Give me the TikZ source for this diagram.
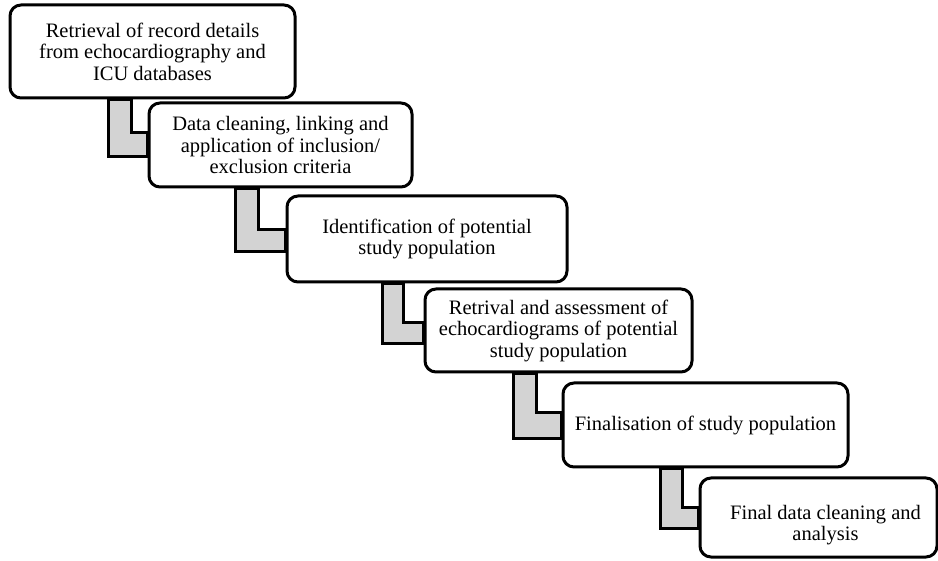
\documentclass[tikz,border=0pt]{standalone}
\usepackage{fontspec}
\setmainfont{Liberation Serif}
\usetikzlibrary{backgrounds}
\definecolor{stepgray}{HTML}{D3D3D3}
\tikzset{
  stagebox/.style={draw=black, line width=3pt, rounded corners=11pt, fill=white,
    align=center, inner sep=0pt, font=\fontsize{20.5}{21.5}\selectfont},
  link/.style={draw=black, line width=3pt, fill=stepgray, line join=miter}
}
\begin{document}
\begin{tikzpicture}[x=1pt,y=-1pt]
\useasboundingbox (0,0) rectangle (938,561);

% the six stages, stepping down to the right
\node[stagebox, minimum width=285pt, minimum height=93pt] (b1) at (152.5,51.5)
  {Retrieval of record details\\from echocardiography and\\ICU databases};
\node[stagebox, minimum width=263pt, minimum height=84pt] (b2) at (280.5,145)
  {Data cleaning, linking and\\application of inclusion/\\exclusion criteria};
\node[stagebox, minimum width=280pt, minimum height=86pt] (b3) at (427,239)
  {Identification of potential\\study population};
\node[stagebox, minimum width=267pt, minimum height=83pt] (b4) at (558.5,330.5)
  {Retrival and assessment of\\echocardiograms of potential\\study population};
\node[stagebox, minimum width=285pt, minimum height=84pt] (b5) at (705.5,425)
  {Finalisation of study population};
% last box runs to the page edge; its text sits a little right and low
\node[stagebox, minimum width=237pt, minimum height=79pt] (b6) at (818.5,517.5)
  {\rule{0pt}{29pt}\hspace*{14pt}Final data cleaning and\\\hspace*{14pt}analysis};

% L-shaped grey links, tucked behind the boxes
\begin{scope}[on background layer]
\draw[link] (108,0 |- b1.south) -- (108,157) -- (b2.west |- 0,157)
  -- (b2.west |- 0,133) -- (131,133) -- (131,0 |- b1.south) -- cycle;
\draw[link] (235,0 |- b2.south) -- (235,252) -- (b3.west |- 0,252)
  -- (b3.west |- 0,230) -- (258,230) -- (258,0 |- b2.south) -- cycle;
\draw[link] (382,0 |- b3.south) -- (382,344) -- (b4.west |- 0,344)
  -- (b4.west |- 0,323) -- (403,323) -- (403,0 |- b3.south) -- cycle;
\draw[link] (513,0 |- b4.south) -- (513,439) -- (b5.west |- 0,439)
  -- (b5.west |- 0,413) -- (536,413) -- (536,0 |- b4.south) -- cycle;
\draw[link] (660,0 |- b5.south) -- (660,528) -- (b6.west |- 0,528)
  -- (b6.west |- 0,507) -- (682,507) -- (682,0 |- b5.south) -- cycle;
\end{scope}
\end{tikzpicture}
\end{document}
